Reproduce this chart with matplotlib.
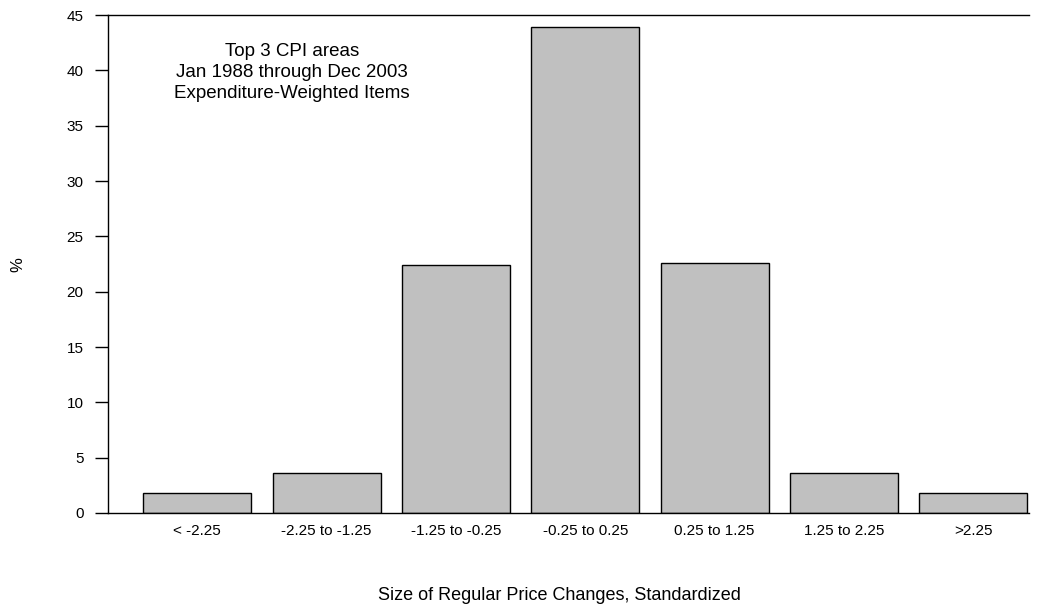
import numpy as np
import matplotlib.pyplot as plt

plt.rcParams['font.family'] = ['Liberation Sans', 'DejaVu Sans']

categories = ['< -2.25', '-2.25 to -1.25', '-1.25 to -0.25', '-0.25 to 0.25',
              '0.25 to 1.25', '1.25 to 2.25', '>2.25']
values = [1.8, 3.65, 22.45, 43.9, 22.6, 3.6, 1.85]
yticks = [0, 5, 10, 15, 20, 25, 30, 35, 40, 45]

fig = plt.figure(figsize=(10.52, 6.06), dpi=100)
ax = fig.add_axes([0.1027, 0.1535, 0.8753, 0.8215])

x = np.arange(len(categories))
ax.bar(x, values, width=0.835, color='#c0c0c0', edgecolor='black', linewidth=1.0)

ax.set_xlim(-0.69, 6.43)
ax.set_ylim(0, 45)
ax.set_yticks(yticks)
ax.set_xticks(x)
ax.set_xticklabels(categories)
ax.tick_params(axis='x', length=0, pad=8, labelsize=11)
ax.tick_params(axis='y', length=9.5, width=1.0, pad=8, labelsize=11, direction='out')

ax.spines['right'].set_visible(False)
for s in ['left', 'top', 'bottom']:
    ax.spines[s].set_linewidth(1.0)

ax.set_ylabel('%', fontsize=12, labelpad=30)
fig.text(0.532, 0.003, 'Size of Regular Price Changes, Standardized',
         ha='center', va='bottom', fontsize=13)

ax.text(0.2, 0.945, 'Top 3 CPI areas\nJan 1988 through Dec 2003\nExpenditure-Weighted Items',
        transform=ax.transAxes, ha='center', va='top', fontsize=13.5, linespacing=1.32)

fig.savefig('out.png', dpi=100)
